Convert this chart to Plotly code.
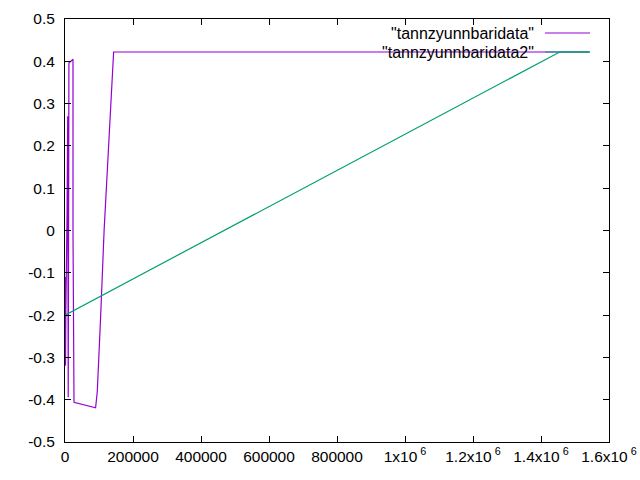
import plotly.graph_objects as go

# purple series: "tannzyunnbaridata"
x1 = [500, 1500, 2500, 6000, 8000, 8500, 9500, 11500, 23500, 23500, 26500,
      90000, 95000, 105000, 115000, 125000, 135000, 143000, 1543000]
y1 = [-0.11, -0.32, -0.19, 0.037, 0.27, 0.03, -0.394, 0.396, 0.405, 0.0, -0.406,
      -0.419, -0.38, -0.2, 0.0, 0.15, 0.3, 0.422, 0.422]

# green series: "tannzyunnbaridata2"
x2 = [0, 1455000, 1543000]
y2 = [-0.2, 0.422, 0.422]

names = ['"tannzyunnbaridata"', '"tannzyunnbaridata2"']
colors = ["#9400d3", "#009e73"]

xtickvals = [0, 200000, 400000, 600000, 800000, 1000000, 1200000, 1400000, 1600000]
xticktext = ["0", "200000", "400000", "600000", "800000",
             "1x10<sup> 6</sup>", "1.2x10<sup> 6</sup>", "1.4x10<sup> 6</sup>", "1.6x10<sup> 6</sup>"]
ytickvals = [-0.5, -0.4, -0.3, -0.2, -0.1, 0, 0.1, 0.2, 0.3, 0.4, 0.5]
yticktext = ["-0.5", "-0.4", "-0.3", "-0.2", "-0.1", "0", "0.1", "0.2", "0.3", "0.4", "0.5"]

fig = go.Figure()
fig.add_trace(go.Scatter(x=x1, y=y1, mode="lines", name=names[0],
                         line=dict(color=colors[0], width=1.2), showlegend=False))
fig.add_trace(go.Scatter(x=x2, y=y2, mode="lines", name=names[1],
                         line=dict(color=colors[1], width=1.2), showlegend=False))

L, R, T, B = 65, 31, 19, 38
pw = 640 - L - R
ph = 480 - T - B

def px_to_paper_x(px):
    return (px - L) / pw

def py_to_paper_y(py):
    return (480 - B - py) / ph

font = dict(family="Liberation Sans, Arial, sans-serif", size=15.5, color="black")
legfont = dict(family="Liberation Sans, Arial, sans-serif", size=16, color="black")

annotations = []
shapes = []
for i, (nm, c) in enumerate(zip(names, colors)):
    py = 33 + i * 19
    annotations.append(dict(x=px_to_paper_x(536), y=py_to_paper_y(py), xref="paper", yref="paper",
                            text=nm, showarrow=False, xanchor="right", yanchor="middle", font=legfont))
    shapes.append(dict(type="line", xref="paper", yref="paper",
                       x0=px_to_paper_x(545), x1=px_to_paper_x(590),
                       y0=py_to_paper_y(py), y1=py_to_paper_y(py),
                       line=dict(color=c, width=1.2), layer="above"))

fig.update_layout(
    width=640, height=480,
    margin=dict(l=L, r=R, t=T, b=B, autoexpand=False),
    paper_bgcolor="white", plot_bgcolor="white",
    font=font,
    annotations=annotations, shapes=shapes,
    xaxis=dict(range=[0, 1600000], tickvals=xtickvals, ticktext=xticktext, automargin=False,
               ticks="inside", ticklen=6, tickcolor="black", showline=True, linecolor="black",
               linewidth=1, mirror="allticks", showgrid=False, zeroline=False,
               tickfont=font),
    yaxis=dict(range=[-0.5, 0.5], tickvals=ytickvals, ticktext=yticktext, automargin=False,
               ticks="inside", ticklen=6, tickcolor="black", showline=True, linecolor="black",
               linewidth=1, mirror="allticks", showgrid=False, zeroline=False,
               tickfont=font, ticklabelstandoff=6),
)

fig.write_html("out.html", config={"displayModeBar": False},
               post_script="document.body.style.margin='0';document.body.style.overflow='hidden';")
